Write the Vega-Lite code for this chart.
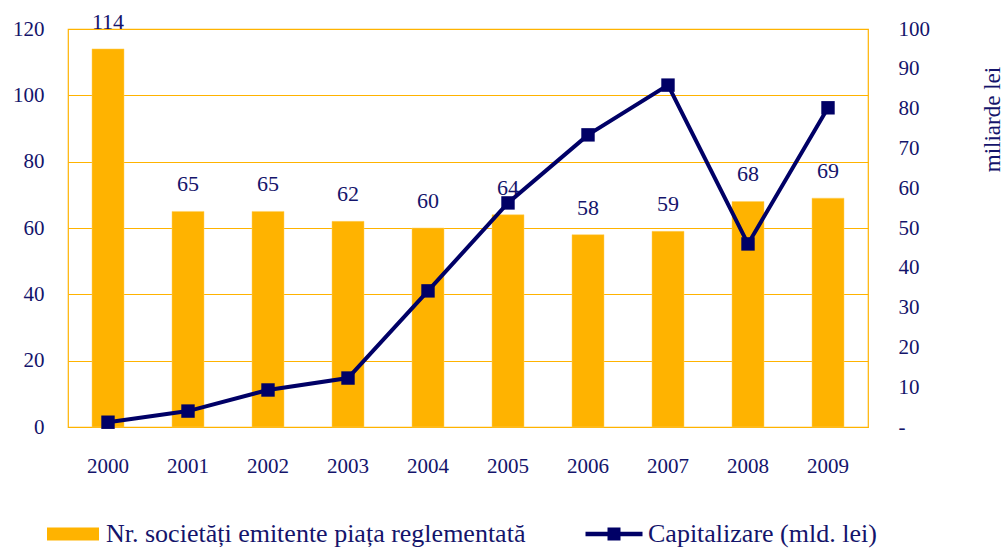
{
  "$schema": "https://vega.github.io/schema/vega-lite/v6.json",
  "autosize": {"type": "none"},
  "padding": {"left": 68, "top": 29, "right": 136, "bottom": 122},
  "width": 800,
  "height": 398,
  "background": "white",
  "config": {
    "font": "Liberation Serif",
    "view": {"stroke": "#FFB300", "strokeWidth": 1.2},
    "axis": {"labelFont": "Liberation Serif", "labelColor": "#14146B", "labelFontSize": 21, "titleFont": "Liberation Serif", "titleColor": "#14146B", "titleFontSize": 23, "titleFontWeight": "normal", "domain": false, "ticks": false, "labelOverlap": false},
    "legend": {"labelFont": "Liberation Serif", "labelColor": "#14146B", "labelFontSize": 26, "labelLimit": 600}
  },
  "data": {"values": [
    {"year": "2000", "n": 114, "cap": 1.2},
    {"year": "2001", "n": 65, "cap": 4.0},
    {"year": "2002", "n": 65, "cap": 9.3},
    {"year": "2003", "n": 62, "cap": 12.3},
    {"year": "2004", "n": 60, "cap": 34.2},
    {"year": "2005", "n": 64, "cap": 56.3},
    {"year": "2006", "n": 58, "cap": 73.4},
    {"year": "2007", "n": 59, "cap": 85.9},
    {"year": "2008", "n": 68, "cap": 46.0},
    {"year": "2009", "n": 69, "cap": 80.2}
  ]},
  "encoding": {
    "x": {"field": "year", "type": "ordinal", "scale": {"paddingInner": 0.6, "paddingOuter": 0.3}, "axis": {"title": null, "labelAngle": 0, "labelPadding": 28, "grid": false}}
  },
  "layer": [
    {
      "encoding": {
        "y": {"field": "n", "type": "quantitative", "scale": {"domain": [0, 120]}, "axis": {"title": null, "values": [0, 20, 40, 60, 80, 100, 120], "grid": true, "gridColor": "#FFB300", "gridWidth": 1, "gridOpacity": 1, "labelPadding": 24}}
      },
      "layer": [
        {
          "mark": {"type": "bar", "stroke": "#FFD060", "strokeWidth": 0.5},
          "encoding": {
            "fill": {"datum": "Nr. societăți emitente piața reglementată", "type": "nominal", "scale": {"range": ["#FFB300"]}, "legend": {"title": null, "orient": "none", "legendX": -8, "legendY": 492, "symbolType": "M-2.6,-0.65H2.6V0.65H-2.6Z", "symbolSize": 400, "symbolStrokeWidth": 0, "labelOffset": 20}}
          }
        },
        {
          "mark": {"type": "text", "baseline": "alphabetic", "dy": -20, "fontSize": 22, "color": "#14146B", "font": "Liberation Serif"},
          "encoding": {
            "text": {"field": "n", "type": "quantitative"}
          }
        }
      ]
    },
    {
      "encoding": {
        "y": {"field": "cap", "type": "quantitative", "scale": {"domain": [0, 100]}, "axis": {"orient": "right", "title": "miliarde lei", "titleX": 124, "titleY": 90, "titleAngle": -90, "titleAlign": "center", "titleBaseline": "middle", "values": [0, 10, 20, 30, 40, 50, 60, 70, 80, 90, 100], "labelOverlap": false, "grid": false, "labelPadding": 30, "labelExpr": "datum.value === 0 ? '-' : datum.label"}}
      },
      "layer": [
        {
          "mark": {"type": "line", "strokeWidth": 4, "color": "#000066"},
          "encoding": {
            "stroke": {"datum": "Capitalizare (mld. lei)", "type": "nominal", "scale": {"range": ["#000066"]}, "legend": {"title": null, "orient": "none", "legendX": 533, "legendY": 492, "symbolType": "M-2.85,-0.22H2.85V0.22H-2.85Z M-0.65,-0.65H0.65V0.65H-0.65Z", "symbolSize": 400, "symbolFillColor": "#000066", "symbolStrokeWidth": 0, "labelOffset": 21}}
          }
        },
        {
          "mark": {"type": "point", "shape": "square", "filled": true, "size": 180, "color": "#000066", "opacity": 1}
        }
      ]
    }
  ],
  "resolve": {"scale": {"y": "independent"}}
}
